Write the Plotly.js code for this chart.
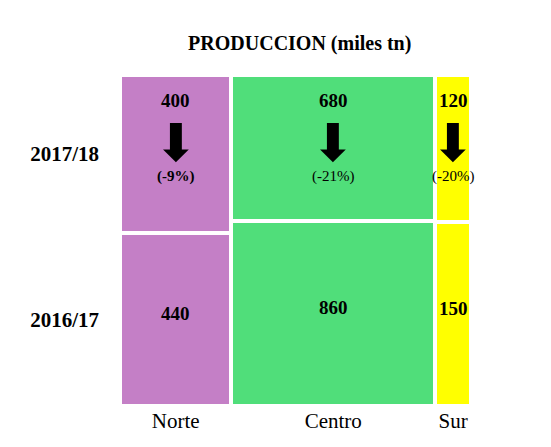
<!DOCTYPE html>
<html><head><meta charset="utf-8">
<script src="https://cdn.plot.ly/plotly-3.0.1.min.js"></script>
<style>html,body{margin:0;padding:0;background:#fff}#chart{width:551px;height:447px}</style>
</head><body><div id="chart"></div>
<script>
const regions = ["Norte", "Centro", "Sur"];
const seasons = ["2016/17", "2017/18"];
const prod1617 = [440, 860, 150];
const prod1718 = [400, 680, 120];
const colors = ["#C47FC6", "#50DE7A", "#FFFF00"];

const totals = regions.map((r, i) => prod1617[i] + prod1718[i]);
const centers = [];
let acc = 0;
totals.forEach(t => { centers.push(acc + t / 2); acc += t; });
const grand = acc;
const frac1617 = totals.map((t, i) => prod1617[i] / t);
const frac1718 = totals.map((t, i) => prod1718[i] / t);

const serif = "Liberation Serif, Times New Roman, serif";
const traces = [
  {type: "bar", x: centers, y: frac1617, width: totals, name: seasons[0],
   marker: {color: colors, line: {color: "#fff", width: 4}}, hoverinfo: "skip"},
  {type: "bar", x: centers, y: frac1718, width: totals, name: seasons[1],
   marker: {color: colors, line: {color: "#fff", width: 4}}, hoverinfo: "skip"}
];

const ann = [];
regions.forEach((r, i) => {
  const pct = Math.round((prod1718[i] - prod1617[i]) / prod1617[i] * 100);
  ann.push({x: centers[i], y: frac1617[i] / 2, xref: "x", yref: "y", yanchor: "middle", yshift: 6,
    text: "<b>" + prod1617[i] + "</b>",
    showarrow: false, font: {family: serif, size: 19, color: "#000"}});
  ann.push({x: centers[i], y: 0.924, xref: "x", yref: "paper", yanchor: "middle", text: "<b>" + prod1718[i] + "</b>",
    showarrow: false, font: {family: serif, size: 19, color: "#000"}});
  ann.push({x: centers[i], y: 0.795, xref: "x", yref: "paper", yanchor: "middle", text: "⬇",
    showarrow: false, font: {family: "DejaVu Sans", size: 52, color: "#000"}});
  const pt = "(" + pct + "%)";
  ann.push({x: centers[i], y: 0.692, xref: "x", yref: "paper", yanchor: "middle", text: i === 0 ? "<b>" + pt + "</b>" : pt,
    showarrow: false, font: {family: serif, size: 15, color: "#000"}});
});

const layout = {
  width: 551, height: 447,
  margin: {l: 120, r: 80, t: 75, b: 41},
  paper_bgcolor: "#fff", plot_bgcolor: "#fff",
  barmode: "stack", bargap: 0, showlegend: false,
  title: {text: "<b>PRODUCCION (miles tn)</b>", x: 0.544, xanchor: "center", y: 0.904, yanchor: "middle",
    font: {family: serif, size: 20, color: "#000"}},
  xaxis: {range: [0, grand], tickvals: centers, ticktext: regions, showgrid: false, zeroline: false,
    showline: false, ticks: "", tickfont: {family: serif, size: 21, color: "#000"}, fixedrange: true},
  yaxis: {range: [0, 1], tickvals: [frac1617[0] / 2, (frac1617[0] + 1) / 2],
    ticktext: ["<b>" + seasons[0] + "</b>", "<b>" + seasons[1] + "</b>"],
    showgrid: false, zeroline: false, showline: false, ticks: "", ticklabelstandoff: 20,
    tickfont: {family: serif, size: 21, color: "#000"}, fixedrange: true},
  annotations: ann
};
Plotly.newPlot("chart", traces, layout, {displayModeBar: false, staticPlot: true});
</script></body></html>
